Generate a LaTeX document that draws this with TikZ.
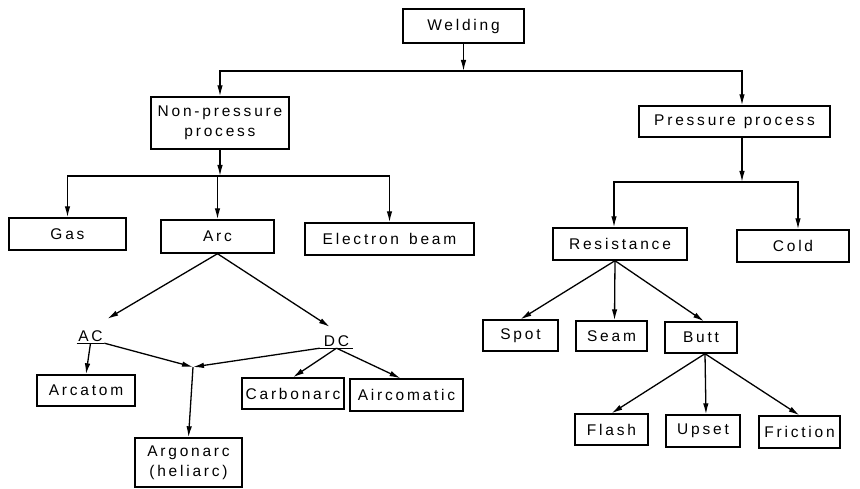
\documentclass[tikz,border=0pt]{standalone}
\usepackage{fontspec}
\setmainfont{Liberation Sans}[LetterSpace=18]
\usetikzlibrary{arrows.meta}

\begin{document}
\begin{tikzpicture}[x=1pt,y=-1pt,
        box/.style={draw, line width=1.4pt, inner sep=0pt, align=center,
            font=\fontsize{15.5}{20}\selectfont},
        lbl/.style={inner sep=1.5pt, font=\fontsize{15.5}{18}\selectfont},
        link/.style={line width=1.3pt},
        >={Latex[length=11pt,width=5.5pt]}]
        \useasboundingbox (0,0) rectangle (860,489);

        % top levels
        \node[box, minimum width=121pt, minimum height=34pt] (weld) at (463.5,26) {Welding};
        \node[box, minimum width=138pt, minimum height=52pt] (nonp) at (220,123) {Non-pressure\\process};
        \node[box, minimum width=191pt, minimum height=31pt] (pres) at (734.5,121.5) {Pressure\hspace{8pt}process};

        \node[box, minimum width=117pt, minimum height=32pt] (gas) at (67.5,234) {Gas};
        \node[box, minimum width=113pt, minimum height=33pt] (arc) at (217.5,236.5) {Arc};
        \node[box, minimum width=169pt, minimum height=32pt] (ebeam) at (389.5,239) {Electron\hspace{10pt}beam};
        \node[box, minimum width=134pt, minimum height=32pt] (resist) at (620,244) {Resistance};
        \node[box, minimum width=112pt, minimum height=32pt] (cold) at (793,246) {Cold};

        % arc branch
        \node[lbl, minimum width=27pt] (ac) at (90.5,336) {AC};
        \node[lbl, minimum width=33pt] (dc) at (336.5,341) {DC};
        \node[box, minimum width=98pt, minimum height=31pt] (arcatom) at (86,390.5) {Arcatom};
        \node[box, minimum width=107pt, minimum height=49pt] (argon) at (188.5,462.5) {Argonarc\\(heliarc)};
        \node[box, minimum width=102pt, minimum height=31pt] (carbon) at (293,393.5) {Carbonarc};
        \node[box, minimum width=113pt, minimum height=32pt] (aircom) at (406.5,395) {Aircomatic};

        % resistance branch
        \node[box, minimum width=75pt, minimum height=31pt] (spot) at (520.5,335.5) {Spot};
        \node[box, minimum width=71pt, minimum height=30pt] (seam) at (611.5,336) {Seam};
        \node[box, minimum width=72pt, minimum height=31pt] (butt) at (701,337.5) {Butt};
        \node[box, minimum width=73pt, minimum height=31pt] (flash) at (611.5,429.5) {Flash};
        \node[box, minimum width=74pt, minimum height=32pt] (upset) at (703,431) {Upset};
        \node[box, minimum width=81pt, minimum height=32pt] (friction) at (799.5,432) {Friction};

        \coordinate (j1) at (463.5,71);
        \coordinate (j2) at (220,176);
        \coordinate (j3) at (742,182);
        \coordinate (jn) at (193,367);

        \draw[link] (ac.south west) -- (ac.south east);
        \draw[link] (dc.south west) -- (dc.south east);

        \draw[link,->] (weld) -- (j1);
        \draw[link,->] (j1) -| (nonp);
        \draw[link,->] (j1) -| ([xshift=7.5pt]pres.north);

        \draw[link,->] (nonp) -- (j2);
        \draw[link,->] (j2) -| (gas);
        \draw[link,->] (j2) -| (arc);
        \draw[link,->] (j2) -| (ebeam);

        \draw[link,->] ([xshift=7.5pt]pres.south) -- (j3);
        \draw[link,->] (j3) -| ([xshift=-6pt]resist.north);
        \draw[link,->] (j3) -| ([xshift=5pt]cold.north);

        \draw[link,->] (arc.south) -- ([shift={(3,-10)}]ac.north east);
        \draw[link,->] (arc.south) -- ([shift={(10,-7)}]dc.north west);
        \draw[link,->] (ac.south) -- (arcatom.north);
        \draw[link,->] (ac.south east) -- (jn);
        \draw[link,->] (dc.south west) -- (jn);
        \draw[link,->] (jn) -- (argon.north);
        \draw[link,->] (dc.south) -- (carbon.north);
        \draw[link,->] (dc.south) -- ([xshift=-6pt]aircom.north);

        \draw[link,->] ([xshift=-5pt]resist.south) -- (spot.north);
        \draw[link,->] ([xshift=-5pt]resist.south) -- ([xshift=3pt]seam.north);
        \draw[link,->] ([xshift=-5pt]resist.south) -- ([xshift=3pt]butt.north);
        \draw[link,->] ([xshift=4pt]butt.south) -- (flash.north);
        \draw[link,->] ([xshift=4pt]butt.south) -- ([xshift=3pt]upset.north);
        \draw[link,->] ([xshift=4pt]butt.south) -- (friction.north);
    \end{tikzpicture}
\end{document}
